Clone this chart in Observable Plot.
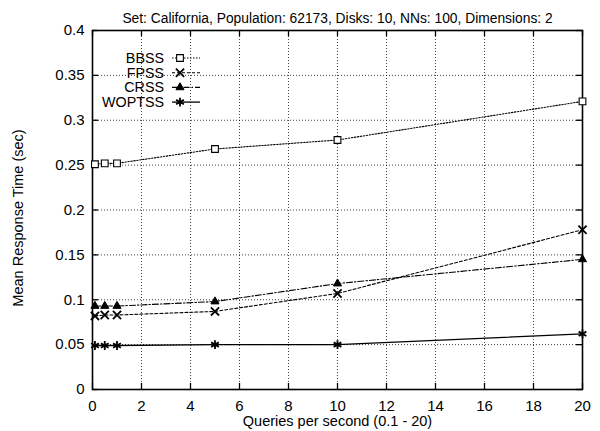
<!DOCTYPE html>
<html>
<head>
<meta charset="utf-8">
<script src="https://cdn.jsdelivr.net/npm/d3@7"></script>
<script src="https://cdn.jsdelivr.net/npm/@observablehq/plot@0.6"></script>
<style>
  body { margin: 0; background: #fff; }
  #chart { width: 600px; height: 431px; }
</style>
</head>
<body>
<div id="chart"></div>
<script>
// Query rates (queries per second)
const qps = [0.1, 0.5, 1, 5, 10, 20];

// Mean response time (sec) per scheduling strategy
const bbss   = [0.251, 0.252, 0.252, 0.268, 0.278, 0.321];
const fpss   = [0.082, 0.083, 0.083, 0.087, 0.107, 0.178];
const crss   = [0.093, 0.093, 0.093, 0.098, 0.118, 0.145];
const woptss = [0.049, 0.049, 0.049, 0.050, 0.050, 0.062];

const seriesNames = ["BBSS", "FPSS", "CRSS", "WOPTSS"];
const seriesValues = [bbss, fpss, crss, woptss];

// Axis ticks
const xTicks = [0, 2, 4, 6, 8, 10, 12, 14, 16, 18, 20];
const yTicks = [0, 0.05, 0.1, 0.15, 0.2, 0.25, 0.3, 0.35, 0.4];

const title = "Set: California, Population: 62173, Disks: 10, NNs: 100, Dimensions: 2";
const xLabel = "Queries per second (0.1 - 20)";
const yLabel = "Mean Response Time (sec)";

const font = "'Liberation Sans', Arial, Helvetica, sans-serif";

// Line and marker style for each series
const styles = {
  BBSS:   {dash: "1.5,1.5",   symbol: "square",   fill: "white", r: 3.8, sw: 1.1},
  FPSS:   {dash: "3,2",       symbol: "times",    fill: "none",  r: 3.8, sw: 1.8},
  CRSS:   {dash: "6,2,1.5,2", symbol: "triangle", fill: "black", r: 3.0, sw: 1.0},
  WOPTSS: {dash: null,        symbol: "asterisk", fill: "none",  r: 4.2, sw: 1.8}
};

const rows = seriesNames.flatMap((name, i) =>
  qps.map((q, j) => ({series: name, q, t: seriesValues[i][j]}))
);

const W = 600, H = 431;
const mL = 92, mR = 18, mT = 30, mB = 42;
const innerW = W - mL - mR;
const innerH = H - mT - mB;
const tickLen = 6;

const dataMarks = seriesNames.flatMap(name => {
  const s = styles[name];
  const d = rows.filter(r => r.series === name);
  return [
    Plot.line(d, {x: "q", y: "t", stroke: "black", strokeWidth: name === "WOPTSS" ? 1.3 : 1.1,
                  strokeDasharray: s.dash}),
    Plot.dot(d, {x: "q", y: "t", symbol: () => s.symbol, r: s.r, stroke: "black",
                 strokeWidth: s.sw, fill: s.fill})
  ];
});

const chart = Plot.plot({
  width: W,
  height: H,
  marginLeft: mL,
  marginRight: mR,
  marginTop: mT,
  marginBottom: mB,
  x: {domain: [0, 20]},
  y: {domain: [0, 0.4]},
  symbol: {type: "identity"},
  style: {fontFamily: font, fontSize: "15px", color: "black", background: "white"},
  marks: [
    Plot.gridX(xTicks, {stroke: "black", strokeOpacity: 0.75, strokeDasharray: "1,2"}),
    Plot.gridY(yTicks, {stroke: "black", strokeOpacity: 0.75, strokeDasharray: "1,2"}),
    // inward tick marks on all four sides
    Plot.tickX(xTicks, {x: d => d, insetTop: innerH - tickLen, stroke: "black", strokeWidth: 1.3}),
    Plot.tickX(xTicks, {x: d => d, insetBottom: innerH - tickLen, stroke: "black", strokeWidth: 1.3}),
    Plot.tickY(yTicks, {y: d => d, insetRight: innerW - tickLen, stroke: "black", strokeWidth: 1.3}),
    Plot.tickY(yTicks, {y: d => d, insetLeft: innerW - tickLen, stroke: "black", strokeWidth: 1.3}),
    Plot.axisX(xTicks, {tickSize: 0, tickPadding: 11, fontSize: 15, tickFormat: d => String(d),
                        label: null}),
    Plot.axisY(yTicks, {tickSize: 0, tickPadding: 8, fontSize: 15, tickFormat: d => String(d),
                        label: null}),
    Plot.frame({stroke: "black", strokeWidth: 1.6}),
    Plot.text([title], {frameAnchor: "top", dy: -17, fontSize: 13.8, fill: "black"}),
    Plot.text([xLabel], {frameAnchor: "bottom", dy: 36, fontSize: 14.5, fill: "black"}),
    Plot.text([yLabel], {frameAnchor: "left", dx: -74, dy: 8, rotate: -90, textAnchor: "middle",
                         fontSize: 14.5, fill: "black"}),
    ...dataMarks
  ]
});

// Legend in the upper-left corner of the plotting area
const svg = d3.select(chart);
const legend = svg.append("g")
  .attr("font-family", font)
  .attr("font-size", 14.3);
const symbolTypes = {square: d3.symbolSquare, times: d3.symbolTimes, triangle: d3.symbolTriangle, asterisk: d3.symbolAsterisk};
seriesNames.forEach((name, i) => {
  const s = styles[name];
  const y = mT + 28 + i * 14.7;
  const x0 = mL + 72;
  legend.append("text")
    .attr("x", x0).attr("y", y).attr("dy", "0.35em")
    .attr("text-anchor", "end").attr("fill", "black").text(name);
  legend.append("line")
    .attr("x1", x0 + 8).attr("x2", x0 + 36).attr("y1", y).attr("y2", y)
    .attr("stroke", "black").attr("stroke-width", name === "WOPTSS" ? 1.3 : 1.1)
    .attr("stroke-dasharray", s.dash);
  legend.append("path")
    .attr("transform", `translate(${x0 + 16},${y})`)
    .attr("d", d3.symbol(symbolTypes[s.symbol], Math.PI * s.r * s.r)())
    .attr("stroke", "black").attr("stroke-width", s.sw).attr("fill", s.fill);
});

document.getElementById("chart").appendChild(chart);
</script>
</body>
</html>
